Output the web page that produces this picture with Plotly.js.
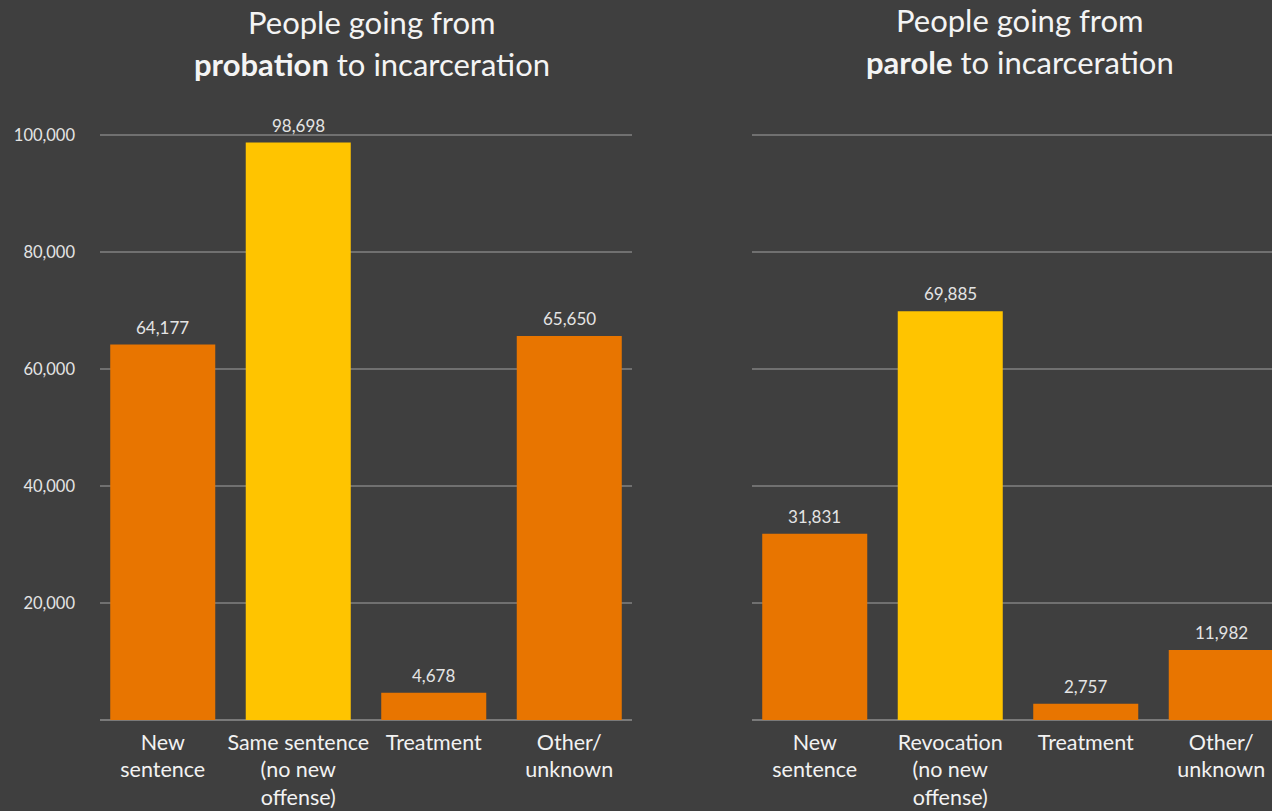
<!DOCTYPE html>
<html><head><meta charset="utf-8">
<script src="https://cdn.plot.ly/plotly-3.0.1.min.js"></script>
<style>html,body{margin:0;padding:0;overflow:hidden;background:#3f3f3f;width:1272px;height:811px}#chart{width:1300px;height:811px}</style>
</head><body><div id="chart"></div>
<script>
const probationCategories = ["New<br>sentence", "Same sentence<br>(no new<br>offense)", "Treatment", "Other/<br>unknown"];
const probationValues = [64177, 98698, 4678, 65650];
const paroleCategories = ["New<br>sentence", "Revocation<br>(no new<br>offense)", "Treatment", "Other/<br>unknown"];
const paroleValues = [31831, 69885, 2757, 11982];
const barColors = ["#e87500", "#ffc400", "#e87500", "#e87500"];
const yTickValues = [20000, 40000, 60000, 80000, 100000];
const yTickLabels = ["20,000", "40,000", "60,000", "80,000", "100,000"];

const W = 1300, H = 811;
const FONT = "Lato, 'Open Sans', sans-serif";
const fmt = v => v.toLocaleString("en-US");
const YMAX = 101000;

const traces = [
  {type:"bar", x:probationCategories, y:probationValues, xaxis:"x", yaxis:"y",
   marker:{color:barColors}, width:0.775, cliponaxis:false, hoverinfo:"x+y"},
  {type:"bar", x:paroleCategories, y:paroleValues, xaxis:"x2", yaxis:"y2",
   marker:{color:barColors}, width:0.775, cliponaxis:false, hoverinfo:"x+y"}
];

const valueFont = {color:"#e4e4e4", size:17, family:FONT};
const valueAnnotations = [];
probationCategories.forEach((c, i) => valueAnnotations.push({x:c, y:probationValues[i], xref:"x", yref:"y",
  text:fmt(probationValues[i]), showarrow:false, yanchor:"middle", yshift:17.5, font:valueFont}));
paroleCategories.forEach((c, i) => valueAnnotations.push({x:c, y:paroleValues[i], xref:"x2", yref:"y2",
  text:fmt(paroleValues[i]), showarrow:false, yanchor:"middle", yshift:17.5, font:valueFont}));

const yDom = [1 - 720/H, 1 - (720 - YMAX/20000*117)/H];
const xCommon = {range:[-0.463, 3.463], showgrid:false, zeroline:false, showline:false, ticks:"",
  tickfont:{color:"#f2f2f2", size:21.5, family:FONT}, ticklabelstandoff:7, fixedrange:true};
const yCommon = {range:[0, YMAX], domain:yDom, tickvals:yTickValues, ticktext:yTickLabels,
  showgrid:true, gridcolor:"#707070", gridwidth:2, zeroline:true, zerolinecolor:"#7a7a7a", zerolinewidth:2,
  showline:false, ticks:"", tickfont:{color:"#e4e4e4", size:16.5, family:FONT}, fixedrange:true};

const titleFont = {size:31, color:"#f4f4f4", family:FONT};
const layout = {
  width:W, height:H, margin:{l:0, r:0, t:0, b:0},
  paper_bgcolor:"#3f3f3f", plot_bgcolor:"#3f3f3f", showlegend:false, bargap:0.225,
  font:{family:FONT, color:"#f2f2f2"},
  xaxis:Object.assign({}, xCommon, {domain:[100/W, 632/W], anchor:"y"}),
  xaxis2:Object.assign({}, xCommon, {domain:[752/W, 1284/W], anchor:"y2"}),
  yaxis:Object.assign({}, yCommon, {anchor:"x", ticklabelstandoff:24}),
  yaxis2:Object.assign({}, yCommon, {anchor:"x2", showticklabels:false}),
  annotations:[
    {text:"People going from", xref:"paper", yref:"paper", x:372/W, y:1-22/H, xanchor:"center", yanchor:"middle", showarrow:false, font:titleFont},
    {text:"<b>probation</b> to incarceration", xref:"paper", yref:"paper", x:372/W, y:1-64/H, xanchor:"center", yanchor:"middle", showarrow:false, font:titleFont},
    {text:"People going from", xref:"paper", yref:"paper", x:1020/W, y:1-20/H, xanchor:"center", yanchor:"middle", showarrow:false, font:titleFont},
    {text:"<b>parole</b> to incarceration", xref:"paper", yref:"paper", x:1020/W, y:1-62/H, xanchor:"center", yanchor:"middle", showarrow:false, font:titleFont}
  ].concat(valueAnnotations)
};
Plotly.newPlot("chart", traces, layout, {displayModeBar:false, staticPlot:true});
</script></body></html>
